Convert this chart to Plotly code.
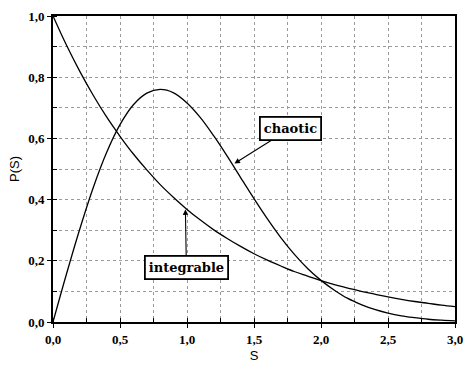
import plotly.graph_objects as go

s_values = [0.0, 0.1, 0.2, 0.3, 0.4, 0.5, 0.6, 0.7, 0.8, 0.9, 1.0, 1.1, 1.2, 1.3, 1.4, 1.5,
            1.6, 1.7, 1.8, 1.9, 2.0, 2.1, 2.2, 2.3, 2.4, 2.5, 2.6, 2.7, 2.8, 2.9, 3.0]
integrable = [1.0, 0.905, 0.819, 0.741, 0.670, 0.607, 0.549, 0.497, 0.449, 0.407, 0.368,
              0.333, 0.301, 0.273, 0.247, 0.223, 0.202, 0.183, 0.165, 0.150, 0.135, 0.122,
              0.111, 0.100, 0.091, 0.082, 0.074, 0.067, 0.061, 0.055, 0.050]
chaotic = [0.0, 0.156, 0.304, 0.439, 0.554, 0.645, 0.710, 0.748, 0.760, 0.749, 0.716,
           0.668, 0.608, 0.542, 0.472, 0.403, 0.337, 0.276, 0.222, 0.175, 0.136, 0.104,
           0.077, 0.057, 0.041, 0.029, 0.020, 0.014, 0.009, 0.006, 0.004]

label_chaotic = "chaotic"
label_integrable = "integrable"

fig = go.Figure()
fig.add_trace(go.Scatter(x=s_values, y=integrable, mode="lines", line=dict(color="black", width=1.3, shape="spline"), showlegend=False))
fig.add_trace(go.Scatter(x=s_values, y=chaotic, mode="lines", line=dict(color="black", width=1.3, shape="spline"), showlegend=False))

tickfont = dict(family="Liberation Serif, DejaVu Serif, serif", size=13, color="black", weight="bold")
grid = dict(showgrid=True, gridcolor="#9a9a9a", gridwidth=1, griddash="dot")

fig.update_xaxes(range=[0, 3], dtick=0.5, tick0=0, tickformat=".1f", ticks="outside", ticklen=4,
                 tickcolor="black", tickfont=tickfont, showline=True, linecolor="black", linewidth=2,
                 mirror=True, zeroline=False,
                 minor=dict(dtick=0.25, ticks="inside", ticklen=4, tickcolor="black", **grid),
                 title=dict(text="S", font=dict(family="Liberation Sans, Arial, sans-serif", size=13, color="black"), standoff=5),
                 **grid)
fig.update_yaxes(range=[0, 1], dtick=0.2, tick0=0, tickformat=".1f", ticks="outside", ticklen=4,
                 tickcolor="black", tickfont=tickfont, showline=True, linecolor="black", linewidth=2,
                 mirror=True, zeroline=False,
                 minor=dict(dtick=0.1, ticks="inside", ticklen=4, tickcolor="black", **grid),
                 title=dict(text="P(S)", font=dict(family="Liberation Sans, Arial, sans-serif", size=13, color="black"), standoff=6),
                 **grid)

annfont = dict(family="DejaVu Serif, Liberation Serif, serif", size=13, color="black", weight="bold")
fig.add_annotation(x=1.354, y=0.518, xref="x", yref="y", text=label_chaotic, showarrow=True,
                   ax=56, ay=-35, arrowhead=2, arrowsize=1, arrowwidth=1.1, arrowcolor="black",
                   font=annfont, bordercolor="black", borderwidth=1.8, borderpad=3, bgcolor="white")
fig.add_annotation(x=0.988, y=0.368, xref="x", yref="y", text=label_integrable, showarrow=True,
                   ax=1, ay=58, arrowhead=2, arrowsize=1, arrowwidth=1.1, arrowcolor="black",
                   font=annfont, bordercolor="black", borderwidth=1.8, borderpad=3, bgcolor="white")

fig.update_layout(width=472, height=370, margin=dict(l=53, r=9, t=14, b=43),
                  plot_bgcolor="white", paper_bgcolor="white", separators=",.")
fig.write_html("out.html")
